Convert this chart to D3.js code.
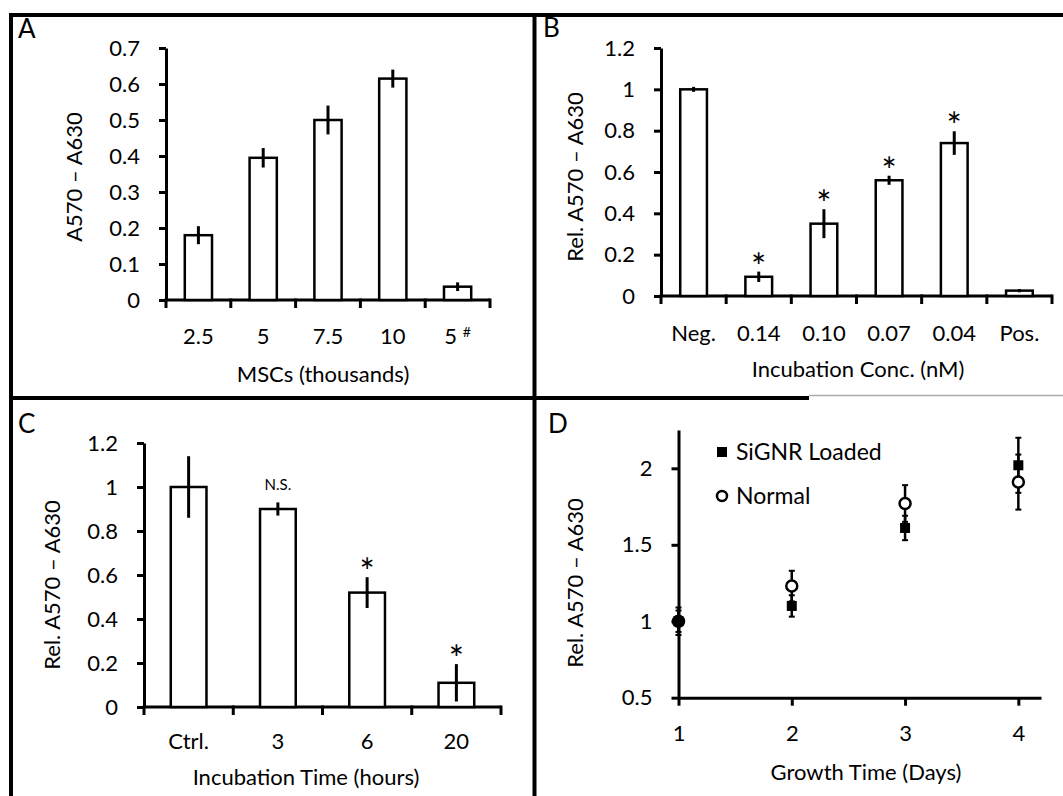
<!DOCTYPE html>
<html>
<head>
<meta charset="utf-8">
<script src="https://cdn.jsdelivr.net/npm/d3@7"></script>
<style>
  body { margin: 0; background: #fff; }
  text { font-family: Lato, "Open Sans", sans-serif; fill: #000; }
</style>
</head>
<body>
<div id="grafico"></div>
<script>
// Dados do painel A
const msCats = ['2.5', '5', '7.5', '10', '5 #'];
const msVals = [0.18, 0.395, 0.5, 0.615, 0.037];
const msErr = [0.025, 0.027, 0.04, 0.025, 0.012];
const msTicks = [0, 0.1, 0.2, 0.3, 0.4, 0.5, 0.6, 0.7];

// Dados do painel B
const concCats = ['Neg.', '0.14', '0.10', '0.07', '0.04', 'Pos.'];
const concVals = [1.0, 0.093, 0.35, 0.56, 0.74, 0.026];
const concErr = [0.012, 0.025, 0.07, 0.022, 0.057, 0.008];
const concMarks = ['', '*', '*', '*', '*', ''];
const relTicks = [0, 0.2, 0.4, 0.6, 0.8, 1, 1.2];

// Dados do painel C
const timeCats = ['Ctrl.', '3', '6', '20'];
const timeVals = [1.0, 0.9, 0.52, 0.11];
const timeErr = [0.14, 0.03, 0.07, 0.085];
const timeMarks = ['', 'N.S.', '*', '*'];

// Dados do painel D
const days = [1, 2, 3, 4];
const loadedVals = [1.0, 1.1, 1.61, 2.02];
const loadedErr = [0.07, 0.07, 0.08, 0.18];
const normalVals = [1.0, 1.23, 1.77, 1.91];
const normalErr = [0.09, 0.1, 0.12, 0.18];
const growthTicks = [0.5, 1, 1.5, 2];

const fonte = 'Lato, "Open Sans", sans-serif';
const tam = 22;

const svg = d3
  .select('#grafico')
  .append('svg')
  .attr('width', 1063)
  .attr('height', 796)
  .style('background', '#fff');

// Molduras dos painéis
const molduras = [
  [9, 15, 1063, 15],
  [11, 13, 11, 796],
  [534.5, 13, 534.5, 796],
  [9, 398, 809, 398],
];
svg
  .selectAll('.moldura')
  .data(molduras)
  .enter()
  .append('line')
  .attr('x1', (d) => d[0])
  .attr('y1', (d) => d[1])
  .attr('x2', (d) => d[2])
  .attr('y2', (d) => d[3])
  .attr('stroke', '#000')
  .attr('stroke-width', 4);
svg
  .append('line')
  .attr('x1', 809)
  .attr('x2', 1063)
  .attr('y1', 395.5)
  .attr('y2', 395.5)
  .attr('stroke', '#aaa')
  .attr('stroke-width', 1.5);

function estilizaEixo(g) {
  g.attr('font-size', tam).attr('font-family', fonte);
  g.select('.domain').attr('stroke-width', 3);
  g.selectAll('.tick line').attr('stroke-width', 3);
}

function letra(txt, x, y) {
  svg.append('text').attr('x', x).attr('y', y).attr('font-size', 26).text(txt);
}

function tituloY(txt, cx, cy) {
  svg
    .append('text')
    .attr('transform', `translate(${cx},${cy}) rotate(-90)`)
    .attr('text-anchor', 'middle')
    .attr('dy', '0.35em')
    .attr('font-size', tam)
    .text(txt);
}

function tituloX(txt, cx, y) {
  svg
    .append('text')
    .attr('x', cx)
    .attr('y', y)
    .attr('text-anchor', 'middle')
    .attr('font-size', tam)
    .text(txt);
}

function desenhaBarras(cfg) {
  const x = d3.scaleBand().domain(cfg.cats).range([cfg.x0, cfg.x1]);
  const y = d3.scaleLinear().domain([0, cfg.yMax]).range([cfg.yBot, cfg.yTop]);
  const g = svg.append('g');
  const largura = x.bandwidth() * cfg.frac;

  // Eixo Y
  g.append('g')
    .attr('transform', `translate(${cfg.x0},0)`)
    .call(
      d3
        .axisLeft(y)
        .tickValues(cfg.ticks)
        .tickSize(7)
        .tickSizeOuter(0)
        .tickPadding(19)
        .tickFormat(d3.format('~g'))
    )
    .call(estilizaEixo);

  // Eixo X com marcas nas fronteiras das categorias
  g.append('line')
    .attr('x1', cfg.x0)
    .attr('x2', cfg.x1)
    .attr('y1', cfg.yBot)
    .attr('y2', cfg.yBot)
    .attr('stroke', '#000')
    .attr('stroke-width', 3);
  g.selectAll('.marcaX')
    .data(d3.range(cfg.cats.length + 1))
    .enter()
    .append('line')
    .attr('x1', (i) => cfg.x0 + i * x.step())
    .attr('x2', (i) => cfg.x0 + i * x.step())
    .attr('y1', cfg.yBot - 1.5)
    .attr('y2', cfg.yBot + 8)
    .attr('stroke', '#000')
    .attr('stroke-width', 3);

  const rotulos = g
    .append('g')
    .attr('transform', `translate(0,${cfg.yBot})`)
    .call(d3.axisBottom(x).tickSize(0).tickPadding(cfg.padX))
    .call(estilizaEixo);
  rotulos.select('.domain').remove();
  rotulos
    .selectAll('.tick text')
    .filter((d) => d.endsWith('#'))
    .text('5 ')
    .append('tspan')
    .attr('font-size', 14)
    .attr('dy', '-0.5em')
    .text('#');

  // Barras
  g.selectAll('.barra')
    .data(cfg.vals)
    .enter()
    .append('rect')
    .attr('x', (d, i) => x(cfg.cats[i]) + (x.bandwidth() - largura) / 2)
    .attr('y', (d) => y(d))
    .attr('width', largura)
    .attr('height', (d) => y(0) - y(d))
    .attr('fill', '#fff')
    .attr('stroke', '#000')
    .attr('stroke-width', 2.5);

  // Barras de erro
  g.selectAll('.erro')
    .data(cfg.vals)
    .enter()
    .append('line')
    .attr('x1', (d, i) => x(cfg.cats[i]) + x.bandwidth() / 2)
    .attr('x2', (d, i) => x(cfg.cats[i]) + x.bandwidth() / 2)
    .attr('y1', (d, i) => y(d + cfg.errs[i]))
    .attr('y2', (d, i) => y(d - cfg.errs[i]))
    .attr('stroke', '#000')
    .attr('stroke-width', 3);

  // Asteriscos e N.S.
  if (cfg.marks) {
    g.selectAll('.marca')
      .data(cfg.marks)
      .enter()
      .append('text')
      .attr('x', (d, i) => x(cfg.cats[i]) + x.bandwidth() / 2)
      .attr('y', (d, i) => y(cfg.vals[i] + cfg.errs[i]) + (d === '*' ? 8 : -12))
      .attr('text-anchor', 'middle')
      .attr('font-size', (d) => (d === '*' ? 36 : 15))
      .text((d) => d);
  }
}

// Painel A
desenhaBarras({
  cats: msCats, vals: msVals, errs: msErr, ticks: msTicks, yMax: 0.7,
  x0: 166, x1: 490, yTop: 48, yBot: 300, frac: 0.42, padX: 28,
});
letra('A', 18, 38);
tituloY('A570 \u2013 A630', 74, 177);
tituloX('MSCs (thousands)', 323, 382);

// Painel B
desenhaBarras({
  cats: concCats, vals: concVals, errs: concErr, marks: concMarks, ticks: relTicks, yMax: 1.2,
  x0: 661, x1: 1052, yTop: 48, yBot: 296, frac: 0.41, padX: 29,
});
letra('B', 543, 37);
tituloY('Rel. A570 \u2013 A630', 575, 177);
tituloX('Incubation Conc. (nM)', 858, 377);

// Painel C
desenhaBarras({
  cats: timeCats, vals: timeVals, errs: timeErr, marks: timeMarks, ticks: relTicks, yMax: 1.2,
  x0: 144, x1: 501, yTop: 443, yBot: 707, frac: 0.4, padX: 26,
});
letra('C', 18, 433);
tituloY('Rel. A570 \u2013 A630', 52.5, 585);
tituloX('Incubation Time (hours)', 306, 785);

// Painel D
const xD = d3.scaleLinear().domain([1, 4.2]).range([678.5, 1041]);
const yD = d3.scaleLinear().domain([0.5, 2.25]).range([697.7, 430.1]);
const gD = svg.append('g');

gD.append('g')
  .attr('transform', `translate(${xD(1)},0)`)
  .call(d3.axisLeft(yD).tickValues(growthTicks).tickSize(7).tickSizeOuter(0).tickPadding(19).tickFormat(d3.format('~g')))
  .call(estilizaEixo);
gD.append('g')
  .attr('transform', `translate(0,${yD(0.5)})`)
  .call(d3.axisBottom(xD).tickValues(days).tickSize(8).tickSizeOuter(0).tickPadding(20).tickFormat(d3.format('d')))
  .call(estilizaEixo);

const series = [
  { vals: loadedVals, errs: loadedErr },
  { vals: normalVals, errs: normalErr },
];
series.forEach((s) => {
  const barras = gD.append('g');
  s.vals.forEach((v, i) => {
    const cx = xD(days[i]);
    barras.append('line')
      .attr('x1', cx).attr('x2', cx)
      .attr('y1', yD(v + s.errs[i])).attr('y2', yD(v - s.errs[i]))
      .attr('stroke', '#000').attr('stroke-width', 2.5);
    [v + s.errs[i], v - s.errs[i]].forEach((e) => {
      barras.append('line')
        .attr('x1', cx - 3).attr('x2', cx + 3)
        .attr('y1', yD(e)).attr('y2', yD(e))
        .attr('stroke', '#000').attr('stroke-width', 2);
    });
  });
});

gD.selectAll('.normal')
  .data(normalVals)
  .enter()
  .append('circle')
  .attr('cx', (d, i) => xD(days[i]))
  .attr('cy', (d) => yD(d))
  .attr('r', 5.5)
  .attr('fill', '#fff')
  .attr('stroke', '#000')
  .attr('stroke-width', 2.5);

gD.selectAll('.loaded')
  .data(loadedVals)
  .enter()
  .append('rect')
  .attr('x', (d, i) => xD(days[i]) - 5)
  .attr('y', (d) => yD(d) - 5)
  .attr('width', 10)
  .attr('height', 10)
  .attr('fill', '#000');

// Legenda
gD.append('rect').attr('x', 717).attr('y', 447).attr('width', 10).attr('height', 10).attr('fill', '#000');
gD.append('text').attr('x', 736).attr('y', 452).attr('dy', '0.35em').attr('font-size', 23).text('SiGNR Loaded');
gD.append('circle').attr('cx', 722).attr('cy', 496).attr('r', 5).attr('fill', '#fff').attr('stroke', '#000').attr('stroke-width', 2.5);
gD.append('text').attr('x', 736).attr('y', 496).attr('dy', '0.35em').attr('font-size', 23).text('Normal');

letra('D', 548, 433);
tituloY('Rel. A570 \u2013 A630', 575, 583);
tituloX('Growth Time (Days)', 866, 780);
</script>
</body>
</html>
